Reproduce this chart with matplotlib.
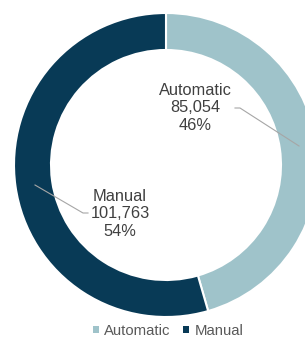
import matplotlib
matplotlib.use("Agg")
import matplotlib.pyplot as plt
from matplotlib.patches import Patch

# data
categories = ["Automatic", "Manual"]
counts = [85054, 101763]
colors = ["#9fc3ca", "#083a56"]

W, H = 305, 339
fig = plt.figure(figsize=(W / 100, H / 100), dpi=100)
ax = fig.add_axes([0, 0, 1, 1])

# donut, centre in pixel coords (y counted from bottom)
cx, cy, r = 166, H - 165, 152
ax.pie(counts, colors=colors, startangle=90, counterclock=False,
       center=(cx, cy), radius=r,
       wedgeprops=dict(width=37, edgecolor="white", linewidth=1.5))
ax.set_xlim(0, W)
ax.set_ylim(0, H)
ax.set_aspect("equal")
ax.axis("off")

total = sum(counts)
# label positions (pixels from top-left) and leader lines
label_pos = [(195, 108), (120, 214)]
leaders = [[(235, 108), (240, 108), (299, 146)],
           [(35, 185), (83, 213), (88, 213)]]
for name, val, (lx, ly), pts in zip(categories, counts, label_pos, leaders):
    pct = round(val / total * 100)
    ax.text(lx, H - ly, f"{name}\n{val:,}\n{pct}%", ha="center", va="center",
            fontsize=11.8, color="#404040", linespacing=1.18,
            family="Liberation Sans")
    xs = [p[0] for p in pts]
    ys = [H - p[1] for p in pts]
    ax.plot(xs, ys, color="#a6a6a6", lw=0.8)

handles = [Patch(facecolor=c, edgecolor="none") for c in colors]
fig.legend(handles, categories, loc="center", bbox_to_anchor=(0.551, 1 - 331 / H),
           ncol=2, frameon=False, handlelength=0.4, handleheight=0.4,
           handletextpad=0.35, columnspacing=0.85,
           prop=dict(family="Liberation Sans", size=10.7), labelcolor="#595959")

fig.savefig("out.png", dpi=100)
